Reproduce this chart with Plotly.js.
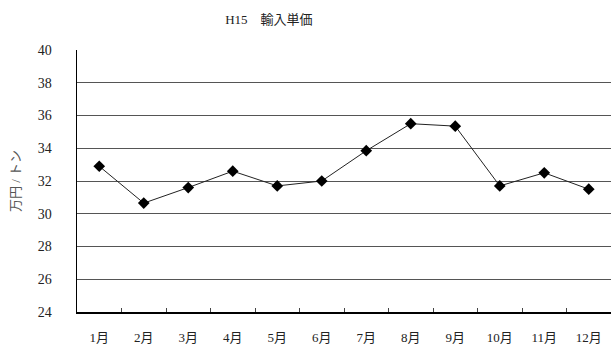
<!DOCTYPE html>
<html>
<head>
<meta charset="utf-8">
<script src="https://cdn.plot.ly/plotly-3.0.1.min.js"></script>
<style>
  html, body { margin: 0; padding: 0; background: #fff; }
  #chart { width: 611px; height: 345px; }
</style>
</head>
<body>
<div id="chart"></div>
<script>
// Monthly import unit price (万円/トン), H15
const months = ['1月', '2月', '3月', '4月', '5月', '6月', '7月', '8月', '9月', '10月', '11月', '12月'];
const unitPrice = [32.9, 30.65, 31.6, 32.6, 31.7, 32.0, 33.85, 35.5, 35.35, 31.7, 32.5, 31.5];
const yTicks = [24, 26, 28, 30, 32, 34, 36, 38, 40];

const FONT = '"Liberation Serif", "Noto Sans CJK JP", serif';

const trace = {
  x: months,
  y: unitPrice,
  type: 'scatter',
  mode: 'lines+markers',
  line: { color: '#222', width: 1 },
  marker: { symbol: 'diamond', size: 9, color: '#000' },
  hoverinfo: 'x+y'
};

const layout = {
  width: 611,
  height: 345,
  margin: { l: 77, r: 0, t: 50, b: 33, pad: 0 },
  paper_bgcolor: '#fff',
  plot_bgcolor: '#fff',
  showlegend: false,
  font: { family: FONT, size: 13, color: '#222' },
  title: {
    text: 'H15\u3000輸入単価',
    font: { family: FONT, size: 13, color: '#222' },
    xref: 'container', x: 0.44, xanchor: 'center',
    yref: 'container', y: 0.945, yanchor: 'middle'
  },
  xaxis: {
    type: 'category',
    range: [-0.5, 11.5],
    showline: true, linecolor: '#000', linewidth: 2,
    showgrid: false, zeroline: false,
    ticks: 'inside', tickson: 'boundaries', ticklen: 4, tickcolor: '#444', tickwidth: 1,
    ticklabelstandoff: 12,
    tickfont: { family: FONT, size: 13, color: '#222' },
    fixedrange: true
  },
  yaxis: {
    range: [24, 40],
    tickvals: yTicks,
    ticktext: yTicks.map(String),
    showline: true, linecolor: '#000', linewidth: 1.5,
    showgrid: true, gridcolor: '#555', gridwidth: 1,
    zeroline: false,
    ticks: '',
    ticklabelstandoff: 21,
    tickfont: { family: FONT, size: 14, color: '#222' },
    title: {
      text: '万円 / トン',
      font: { family: FONT, size: 13, color: '#555' },
      standoff: 14
    },
    fixedrange: true
  }
};

Plotly.newPlot('chart', [trace], layout, { displayModeBar: false, staticPlot: true });
</script>
</body>
</html>
